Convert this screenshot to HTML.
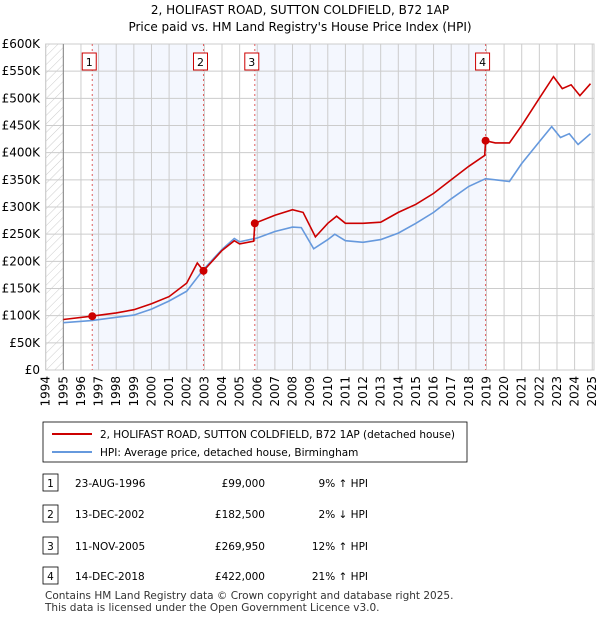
<!DOCTYPE html>
<html><head><meta charset="utf-8"><style>
body{margin:0;background:#fff;font-family:"Liberation Sans","DejaVu Sans",sans-serif;}
svg text{font-family:"DejaVu Sans","Liberation Sans",sans-serif;}
</style></head><body>
<svg id="c" width="600" height="620" xmlns="http://www.w3.org/2000/svg">
<defs><pattern id="h" width="6" height="6" patternUnits="userSpaceOnUse" patternTransform="rotate(45)"><line x1="0" y1="0" x2="0" y2="6" stroke="#ccc" stroke-width="1"/></pattern></defs>
<text x="300" y="14" text-anchor="middle" font-size="12">2, HOLIFAST ROAD, SUTTON COLDFIELD, B72 1AP</text>
<text x="300" y="31" text-anchor="middle" font-size="12">Price paid vs. HM Land Registry's House Price Index (HPI)</text>
<g id="plot"></g>
<rect x="43" y="422" width="424" height="40" fill="#fff" stroke="#000" stroke-width="0.8"/>
<line x1="52" y1="434" x2="92" y2="434" stroke="#cc0000" stroke-width="2"/>
<text x="100" y="438" font-size="10.5" textLength="355">2, HOLIFAST ROAD, SUTTON COLDFIELD, B72 1AP (detached house)</text>
<line x1="52" y1="452" x2="92" y2="452" stroke="#6699dd" stroke-width="2"/>
<text x="100" y="456" font-size="10.5">HPI: Average price, detached house, Birmingham</text>
<g id="tbl" font-size="10.5"></g>
<text x="45" y="599" font-size="10.5" fill="#333">Contains HM Land Registry data © Crown copyright and database right 2025.</text>
<text x="45" y="611" font-size="10.5" fill="#333">This data is licensed under the Open Government Licence v3.0.</text>
</svg>
<script>
const NS="http://www.w3.org/2000/svg";
const hpiT=[1995,1996.6,1998,1999,2000,2001,2002,2002.95,2004,2004.7,2005,2006,2007,2008,2008.5,2009.2,2010,2010.4,2011,2012,2013,2014,2015,2016,2017,2018,2018.95,2019.5,2020.3,2021,2022,2022.7,2023.2,2023.7,2024.2,2024.9];
const hpiV=[87,91,97,101,112,127,145,185,222,242,236,243,255,263,262,223,240,250,238,235,240,252,270,290,315,338,352,350,347,380,420,448,428,435,415,435];
const priceT=[1995,1996.6,1998,1999,2000,2001,2002,2002.6,2002.95,2004,2004.7,2005,2005.8,2005.86,2007,2008,2008.6,2009.3,2010,2010.5,2011,2012,2013,2014,2015,2016,2017,2018,2018.9,2018.95,2019.5,2020.3,2021,2022,2022.8,2023.3,2023.8,2024.3,2024.9];
const priceV=[93,99,105,111,122,135,160,197,182.5,220,238,232,237,270,285,295,290,245,270,283,270,270,272,290,305,325,350,375,395,422,418,418,450,500,540,518,525,505,527];
const saleT=[1996.64,2002.95,2005.86,2018.95];
const saleV=[99,182.5,269.95,422];
const saleLabels=["1","2","3","4"];
const saleDates=["23-AUG-1996","13-DEC-2002","11-NOV-2005","14-DEC-2018"];
const salePrices=["£99,000","£182,500","£269,950","£422,000"];
const saleHpi=["9% ↑ HPI","2% ↓ HPI","12% ↑ HPI","21% ↑ HPI"];
const yTicks=[0,50,100,150,200,250,300,350,400,450,500,550,600];
const yLabels=["£0","£50K","£100K","£150K","£200K","£250K","£300K","£350K","£400K","£450K","£500K","£550K","£600K"];
const xTicks=[1994,1995,1996,1997,1998,1999,2000,2001,2002,2003,2004,2005,2006,2007,2008,2009,2010,2011,2012,2013,2014,2015,2016,2017,2018,2019,2020,2021,2022,2023,2024,2025];
const L=45.7,R=594,T=44,B=370,X0=1994,X1=2025.1;
const x=t=>L+(t-X0)/(X1-X0)*(R-L);
const y=v=>B-v/600*(B-T);
const g=document.getElementById('plot');
function el(tag,a,p){const e=document.createElementNS(NS,tag);for(const k in a)e.setAttribute(k,a[k]);(p||g).appendChild(e);return e;}
let e;
e=el('rect',{x:L,y:T,width:R-L,height:B-T,fill:'#fff',stroke:'#ccc'});


e=el('rect',{x:x(saleT[0]),y:T,width:x(saleT[1])-x(saleT[0]),height:B-T,fill:'#f4f7fe'});


e=el('rect',{x:x(saleT[2]),y:T,width:x(saleT[3])-x(saleT[2]),height:B-T,fill:'#f4f7fe'});


e=el('rect',{x:L,y:T,width:x(1995)-L,height:B-T,fill:'url(#h)'});


yTicks.forEach((v,i)=>{
 e=el('line',{x1:L,x2:R,y1:y(v),y2:y(v),stroke:'#ccc'});
 
 
 e=el('text',{x:40,y:y(v)+4,'text-anchor':'end','font-size':12});
 e.textContent=yLabels[i];
 
 
});
xTicks.forEach(t=>{
 e=el('line',{x1:x(t),x2:x(t),y1:T,y2:B,stroke:'#ccc'});
 
 
 e=el('text',{x:x(t)+4,y:376,'text-anchor':'end','font-size':12,transform:`rotate(-90 ${x(t)+4} 376)`});
 e.textContent=t;
 
 
});
e=el('line',{x1:x(1995),x2:x(1995),y1:T,y2:B,stroke:'#888'});


saleT.forEach((t,i)=>{
 e=el('line',{x1:x(t),x2:x(t),y1:T,y2:B,stroke:'#e06060','stroke-dasharray':'2,3'});
 
 
});
const pts=(ts,vs)=>ts.map((t,i)=>x(t).toFixed(1)+','+y(vs[i]).toFixed(1)).join(' ');
e=el('polyline',{points:pts(hpiT,hpiV),fill:'none',stroke:'#6699dd','stroke-width':1.6});


e=el('polyline',{points:pts(priceT,priceV),fill:'none',stroke:'#cc0000','stroke-width':1.6});


saleT.forEach((t,i)=>{
 e=el('circle',{cx:x(t),cy:y(saleV[i]),r:4,fill:'#cc0000'});
 
 
 e=el('rect',{x:x(t)-10,y:53,width:14,height:17,fill:'#fff',stroke:'#cc0000'});
 
 
 e=el('text',{x:x(t)-3,y:66,'text-anchor':'middle','font-size':11});
 e.textContent=saleLabels[i];
 
 
});
const tb=document.getElementById('tbl');
const rowY=[483,514,546,576];
saleT.forEach((t,i)=>{
 const yy=rowY[i];
 e=el('rect',{x:43,y:yy-9,width:15,height:17,fill:'#fff',stroke:'#000','stroke-width':0.8},tb);
 
 
 e=el('text',{x:50.5,y:yy+4,'text-anchor':'middle'},tb);e.textContent=saleLabels[i];
 
 
 e=el('text',{x:75,y:yy+4},tb);e.textContent=saleDates[i];
 
 
 e=el('text',{x:265,y:yy+4,'text-anchor':'end'},tb);e.textContent=salePrices[i];
 
 
 e=el('text',{x:368,y:yy+4,'text-anchor':'end'},tb);e.textContent=saleHpi[i];
 
 
});
</script>
</body></html>
